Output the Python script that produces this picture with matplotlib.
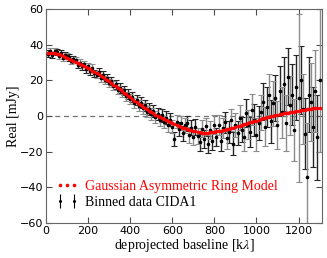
import matplotlib
matplotlib.use("Agg")
import matplotlib.pyplot as plt
from matplotlib.legend_handler import HandlerErrorbar, HandlerLine2D
import numpy as np

# deprojected baseline (k lambda)
baseline = list(range(10, 1310, 10))

model = [35.6, 35.5, 35.3, 35.1, 34.9, 34.5, 34.1, 33.6, 33.1, 32.6,
         32.1, 31.5, 30.9, 30.3, 29.7, 29.1, 28.5, 27.9, 27.3, 26.7,
         26.1, 25.5, 24.8, 24.1, 23.4, 22.6, 21.8, 21.0, 20.2, 19.4,
         18.5, 17.6, 16.7, 15.8, 14.9, 14.0, 13.1, 12.2, 11.3, 10.4,
         9.5, 8.6, 7.7, 6.9, 6.1, 5.3, 4.5, 3.7, 2.9, 2.1,
         1.4, 0.7, 0.0, -0.6, -1.2, -1.8, -2.4, -3.0, -3.5, -4.0,
         -4.5, -5.0, -5.5, -6.0, -6.5, -6.9, -7.3, -7.7, -8.1, -8.4,
         -8.7, -9.0, -9.2, -9.3, -9.4, -9.4, -9.3, -9.2, -9.0, -8.8,
         -8.6, -8.4, -8.2, -8.0, -7.7, -7.4, -7.1, -6.8, -6.5, -6.2,
         -5.8, -5.4, -5.0, -4.6, -4.3, -3.9, -3.6, -3.2, -2.9, -2.6,
         -2.2, -1.8, -1.4, -1.1, -0.8, -0.5, -0.2, 0.1, 0.4, 0.7,
         0.9, 1.2, 1.4, 1.6, 1.8, 2.1, 2.3, 2.5, 2.8, 3.0,
         3.2, 3.4, 3.6, 3.8, 4.0, 4.1, 4.3, 4.4, 4.6, 4.7]

data = [35.0, 36.6, 34.2, 36.3, 35.8, 33.4, 35.2, 32.7, 34.4, 33.5,
        32.9, 30.6, 31.8, 31.2, 28.6, 30.0, 27.8, 29.1, 26.2, 27.9,
        25.0, 26.8, 24.0, 23.2, 24.6, 21.5, 22.9, 20.1, 21.3, 18.6,
        19.6, 17.0, 17.9, 14.6, 15.7, 13.2, 14.3, 11.0, 12.4, 9.6,
        10.6, 7.5, 8.9, 5.8, 7.3, 4.2, 5.9, 2.4, 4.1, 1.0,
        2.8, -0.6, 1.2, -2.3, 0.3, -3.4, -0.9, -5.2, -2.0, -6.1,
        -13.0, -3.2, -7.4, -3.9, -9.8, -5.2, -4.1, -10.6, -6.5, -12.0,
        -6.0, -11.5, -14.8, -7.2, -12.9, -5.9, -16.0, -8.1, -13.8, -4.9,
        -11.8, -5.0, -14.2, -7.0, -3.6, -12.4, -8.9, -2.4, -15.6, -5.0,
        -9.5, -1.0, -7.6, -12.0, 1.5, -4.8, -8.9, 3.5, -2.1, -10.5,
        -4.0, 2.0, 8.0, -6.0, 5.0, 12.0, -3.0, 7.0, 10.0, -5.0,
        14.0, 2.0, 18.0, -4.0, 22.0, 6.0, 12.0, -8.0, 16.0, 10.0,
        20.0, 4.0, -10.0, -34.0, 12.0, 8.0, -6.0, 14.0, -12.0, 20.0]

error = [1.8, 1.6, 1.5, 1.6, 1.7, 1.6, 1.8, 1.6, 1.7, 1.6,
         1.8, 1.7, 1.8, 1.7, 1.9, 1.8, 2.0, 1.9, 1.9, 2.0,
         2.0, 2.1, 2.0, 2.1, 2.1, 2.2, 2.2, 2.3, 2.2, 2.4,
         2.3, 2.4, 2.5, 2.4, 2.6, 2.5, 2.7, 2.6, 2.8, 2.7,
         2.9, 2.8, 3.0, 2.9, 3.1, 3.0, 3.2, 3.1, 3.3, 3.2,
         3.4, 3.3, 3.5, 3.4, 3.6, 3.5, 3.7, 3.6, 3.8, 3.7,
         3.9, 3.8, 4.0, 4.0, 4.1, 4.1, 4.2, 4.3, 4.3, 4.4,
         4.5, 4.5, 4.6, 4.7, 4.8, 4.9, 5.0, 5.0, 5.1, 5.2,
         5.3, 5.4, 5.5, 5.6, 5.8, 5.9, 6.0, 6.2, 6.4, 6.6,
         6.8, 7.0, 7.2, 7.5, 7.8, 8.0, 8.3, 8.6, 9.0, 9.3,
         9.6, 10.0, 10.4, 10.8, 11.2, 11.6, 12.0, 12.5, 13.0, 13.5,
         14.0, 14.5, 15.0, 15.5, 16.0, 16.5, 17.0, 17.5, 18.0, 47.0,
         19.0, 19.5, 20.0, 30.0, 21.0, 22.0, 22.5, 23.0, 24.0, 40.0]

model_label = "Gaussian Asymmetric Ring Model"
data_label = "Binned data CIDA1"
xlabel = "deprojected baseline [k$\\lambda$]"
ylabel = "Real [mJy]"

plt.rcParams['mathtext.fontset'] = 'stix'
serif = ['Liberation Serif', 'DejaVu Serif']

fig = plt.figure(figsize=(3.27, 2.58), dpi=100)
ax = fig.add_axes([0.141, 0.136, 0.844, 0.829])

ax.axhline(0, color='0.45', ls='--', lw=0.9, dashes=(4, 3), zorder=1)

x = np.array(baseline)
y = np.array(data)
e = np.array(error)
for k, shade in enumerate(['0.15', '0.55']):
    sl = slice(k, None, 2)
    ax.errorbar(x[sl], y[sl], yerr=e[sl], fmt='none', ecolor=shade,
                elinewidth=1.0, capsize=2, capthick=0.8, zorder=2)
ax.plot(x, y, 'o', color='black', ms=1.6, zorder=3)
eb_handle = ax.errorbar([], [], yerr=[], fmt='o', color='black', ms=1.2,
                        ecolor='black', elinewidth=0.8, capsize=1.5, capthick=0.8)

mline, = ax.plot(x, model, 'o', color='red', ms=2.6, mec='none', zorder=4)

ax.set_xlim(0, 1312)
ax.set_ylim(-60, 60)
ax.set_xticks([0, 200, 400, 600, 800, 1000, 1200])
ax.set_yticks([-60, -40, -20, 0, 20, 40, 60])
ax.tick_params(direction='in', top=True, right=True, length=4, width=0.8,
               labelsize=8, pad=2, color='0.3')
for s in ax.spines.values():
    s.set_color('0.4')
    s.set_linewidth(0.8)

ax.set_xlabel(xlabel, fontsize=10, family=serif, labelpad=1)
ax.set_ylabel(ylabel, fontsize=10, family=serif, labelpad=0)

leg = ax.legend([mline, eb_handle], [model_label, data_label],
                loc='lower left', frameon=False,
                prop={'family': serif, 'size': 10},
                handler_map={mline: HandlerLine2D(numpoints=3),
                             eb_handle: HandlerErrorbar(numpoints=2)},
                handlelength=1.6, handletextpad=0.5, labelspacing=0.2,
                borderaxespad=0.3, bbox_to_anchor=(0.0, 0.02))
leg.get_texts()[0].set_color('red')

fig.savefig('out.png', dpi=100)
